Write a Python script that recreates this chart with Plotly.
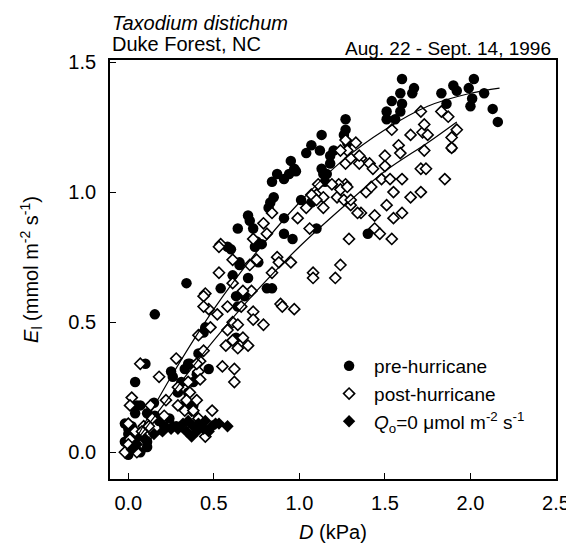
import plotly.graph_objects as go

# ---------------- data ----------------
pre_x = [1.60, 1.67, 1.66, 1.54, 1.59, 1.60, 1.59, 1.51, 1.56, 1.51, 1.83, 1.86, 1.90, 1.92, 1.99, 2.02, 2.01, 2.00,
         2.08, 2.13, 2.16, 1.27, 1.27, 1.26, 1.89, 1.40,
         1.13, 1.28, 1.07, 1.12, 1.04, 1.18, 1.18, 0.95, 0.98, 0.94, 0.87, 0.84, 0.91, 0.97, 1.13, 1.14, 1.16, 1.15,
         0.85, 0.83, 0.82, 0.70, 0.71, 0.64, 0.58, 0.91, 0.91, 0.96, 1.01, 1.07, 1.10, 0.75, 0.73, 1.20,
         0.60, 0.74, 0.78, 0.65, 0.76, 0.65, 0.61, 0.70, 0.54, 0.63, 0.68, 0.64, 0.81, 0.84, 0.45, 0.44, 0.63, 0.41,
         0.35, 0.47, 0.34, 0.155, 0.25, 0.33, 0.36, 0.40, 0.31, 0.29, 0.35, 0.10, 0.04, 0.26, 0.38, 0.38, 0.33, 0.07,
         0.04, 0.11, 0.155, 0.18, 0.24, 0.21, 0.28, -0.02, 0.00, 0.02, 0.06, -0.02, 0.01, 0.07, 0.00, 0.11, 0.04,
         0.15, 0.05, 0.00, 0.03, 0.11]
pre_y = [1.435, 1.40, 1.38, 1.35, 1.38, 1.34, 1.31, 1.28, 1.28, 1.31, 1.38, 1.34, 1.41, 1.39, 1.40, 1.435, 1.36, 1.33,
         1.38, 1.32, 1.27, 1.28, 1.24, 1.22, 1.17, 0.84,
         1.22, 1.19, 1.18, 1.16, 1.15, 1.14, 1.11, 1.12, 1.08, 1.07, 1.07, 1.04, 1.05, 1.09, 1.09, 1.07, 1.07, 1.04,
         0.98, 0.96, 0.94, 0.91, 0.89, 0.86, 0.79, 0.90, 0.84, 0.82, 0.97, 0.96, 0.86, 0.81, 0.86, 1.16,
         0.78, 0.79, 0.80, 0.73, 0.73, 0.72, 0.68, 0.67, 0.63, 0.60, 0.60, 0.56, 0.63, 0.63, 0.48, 0.46, 0.44, 0.38,
         0.34, 0.32, 0.65, 0.53, 0.31, 0.32, 0.34, 0.30, 0.27, 0.23, 0.23, 0.34, 0.27, 0.29, 0.27, 0.18, 0.18, 0.18,
         0.15, 0.15, 0.14, 0.12, 0.13, 0.10, 0.10, 0.11, 0.07, 0.10, 0.06, 0.04, 0.01, 0.00, -0.01, 0.02, 0.03,
         0.19, 0.18, 0.09, 0.05, 0.04]

post_x = [1.71, 1.54, 1.83, 1.87, 1.92, 1.65, 1.72, 1.75, 1.73, 1.58, 1.59, 1.73, 1.89, 1.89, 1.33, 1.27, 1.28, 1.36,
          1.35, 1.41, 1.43, 1.50, 1.50, 1.48, 1.53, 1.27, 1.23, 1.22, 1.30, 1.39, 1.42, 1.60, 1.71, 1.74, 1.85, 1.55,
          1.65, 1.71, 1.51, 1.60, 1.55, 1.36, 1.44, 1.44, 1.47, 1.54, 1.29, 1.24, 1.21, 1.08, 1.08, 1.34, 1.26, 1.24,
          1.28, 1.30,
          1.11, 1.19, 1.10, 1.14, 1.14, 1.04, 0.99, 0.84, 0.79, 0.81, 0.73, 0.54, 1.24, 1.27, 1.30, 1.35, 1.07, 1.10,
          1.06,
          0.61, 0.75, 0.87, 0.95, 0.71, 0.84, 0.88, 0.53, 0.53, 0.61, 0.72, 0.67, 0.45, 0.47, 0.52, 0.58, 0.66, 0.89,
          0.97, 0.90, 0.73, 0.73, 0.79, 0.61, 0.64, 0.58, 0.41, 0.48, 0.61, 0.57, 0.67, 0.70, 0.64, 0.44, 0.42, 0.28,
          0.55, 0.62, 0.62, 0.07, 0.18, 0.41, 0.42, 0.35, 0.40, 0.44, 0.44, 0.29, 0.36, 0.34, 0.40, 0.37, 0.29, 0.02,
          0.01, 0.13, 0.22, 0.21, 0.14, 0.49, 0.45, 0.41, 0.00, 0.04, 0.09, 0.01, 0.11, -0.02, 0.05, 0.33, 0.38, 0.12,
          0.08, 0.00]
post_y = [1.31, 1.24, 1.31, 1.29, 1.24, 1.22, 1.23, 1.22, 1.26, 1.18, 1.15, 1.16, 1.21, 1.17, 1.19, 1.20, 1.16, 1.13,
          1.11, 1.11, 1.09, 1.14, 1.10, 1.05, 1.05, 1.03, 1.03, 0.98, 0.95, 1.00, 1.02, 1.05, 1.09, 1.09, 1.05, 1.00,
          0.98, 1.00, 0.95, 0.92, 0.90, 0.92, 0.91, 0.86, 0.84, 0.82, 0.82, 0.72, 0.67, 0.69, 0.67, 0.92, 0.97, 1.01,
          1.02, 0.97,
          1.03, 1.03, 0.99, 0.98, 0.94, 0.94, 0.90, 0.92, 0.88, 0.84, 0.82, 0.80, 1.16, 1.11, 1.13, 1.14, 0.99, 0.97,
          0.86,
          0.74, 0.74, 0.75, 0.73, 0.72, 0.69, 0.73, 0.79, 0.69, 0.65, 0.62, 0.62, 0.61, 0.55, 0.53, 0.56, 0.56, 0.57,
          0.55, 0.56, 0.54, 0.51, 0.49, 0.50, 0.49, 0.47, 0.45, 0.48, 0.43, 0.41, 0.44, 0.41, 0.40, 0.39, 0.35, 0.36,
          0.33, 0.32, 0.27, 0.34, 0.29, 0.31, 0.28, 0.27, 0.34, 0.60, 0.56, 0.25, 0.23, 0.20, 0.20, 0.16, 0.18, 0.21,
          0.18, 0.18, 0.20, 0.14, 0.13, 0.16, 0.06, 0.13, 0.11, 0.08, 0.10, 0.05, 0.06, 0.00, 0.00, 0.16, 0.16, 0.10,
          0.08, 0.03]

q0_x = [0.32, 0.38, 0.44, 0.49, 0.53, 0.58, 0.45, 0.37, 0.40, 0.47, 0.34, 0.41, 0.26, 0.51, 0.35, 0.05, 0.10, 0.15,
        0.20, 0.25, 0.02, 0.29]
q0_y = [0.11, 0.10, 0.09, 0.10, 0.11, 0.10, 0.12, 0.06, 0.08, 0.08, 0.08, 0.11, 0.10, 0.11, 0.12, 0.03, 0.05, 0.07,
        0.08, 0.09, 0.01, 0.09]

# fitted curves, points
fit_pre_x = [0.02, 0.25, 0.50, 0.75, 1.00, 1.25, 1.50, 1.75, 2.00, 2.17]
fit_pre_y = [0.02, 0.29, 0.55, 0.77, 0.96, 1.12, 1.24, 1.33, 1.38, 1.40]
fit_post_x = [0.02, 0.25, 0.50, 0.75, 1.00, 1.25, 1.50, 1.75, 1.92]
fit_post_y = [0.02, 0.22, 0.43, 0.62, 0.79, 0.94, 1.08, 1.19, 1.27]
fit_q0_x = [0.00, 0.10, 0.20, 0.30, 0.45, 0.60]
fit_q0_y = [0.00, 0.05, 0.075, 0.09, 0.10, 0.105]

x_ticks = [0.0, 0.5, 1.0, 1.5, 2.0, 2.5]
y_ticks = [0.0, 0.5, 1.0, 1.5]

FONT = "Liberation Sans, Arial, Helvetica, sans-serif"

fig = go.Figure()
fig.add_trace(go.Scatter(x=pre_x, y=pre_y, mode="markers", name="pre-hurricane",
                         marker=dict(symbol="circle", size=10.5, color="black")))
fig.add_trace(go.Scatter(x=post_x, y=post_y, mode="markers", name="post-hurricane",
                         marker=dict(symbol="diamond", size=8.5, color="white",
                                     line=dict(color="black", width=1.6))))
fig.add_trace(go.Scatter(x=q0_x, y=q0_y, mode="markers",
                         name="<i>Q</i><sub>o</sub>=0 μmol m<sup>-2</sup> s<sup>-1</sup>",
                         marker=dict(symbol="diamond", size=9.5, color="black")))
for fx, fy in [(fit_pre_x, fit_pre_y), (fit_post_x, fit_post_y), (fit_q0_x, fit_q0_y)]:
    fig.add_trace(go.Scatter(x=fx, y=fy, mode="lines", showlegend=False,
                             line=dict(color="black", width=1.2, shape="spline")))

axis_common = dict(showgrid=False, zeroline=False, showline=True, mirror=True, linecolor="black",
                   linewidth=1.8, ticks="inside", ticklen=6, tickwidth=1.2, tickcolor="black",
                   tickfont=dict(size=20, color="black", family=FONT), tickformat=".1f")

fig.update_xaxes(range=[-0.107, 2.5], tickvals=x_ticks, ticklabelstandoff=5,
                 title=dict(text="<i>D</i> (kPa)", font=dict(size=20, color="black", family=FONT), standoff=12),
                 **axis_common)
fig.update_yaxes(range=[-0.103, 1.508], tickvals=y_ticks, ticklabelstandoff=8,
                 title=dict(text="<i>E</i><sub>l</sub> (mmol m<sup>-2</sup> s<sup>-1</sup>)",
                            font=dict(size=20, color="black", family=FONT), standoff=24),
                 **axis_common)

fig.add_annotation(text="<i>Taxodium distichum</i>", xref="paper", yref="paper", x=0.0, y=1.089,
                   xanchor="left", yanchor="middle", showarrow=False,
                   font=dict(size=20, color="black", family=FONT))
fig.add_annotation(text="Duke Forest, NC", xref="paper", yref="paper", x=0.0, y=1.037,
                   xanchor="left", yanchor="middle", showarrow=False,
                   font=dict(size=20, color="black", family=FONT))
fig.add_annotation(text="Aug. 22 - Sept. 14, 1996", xref="paper", yref="paper", x=0.993, y=1.028,
                   xanchor="right", yanchor="middle", showarrow=False,
                   font=dict(size=19, color="black", family=FONT))

fig.update_layout(
    width=574, height=544,
    margin=dict(l=102, r=17, t=52, b=64),
    plot_bgcolor="white", paper_bgcolor="white",
    font=dict(family=FONT, color="black"),
    legend=dict(x=0.48, y=0.315, xanchor="left", yanchor="top", bgcolor="rgba(0,0,0,0)",
                font=dict(size=19, color="black", family=FONT), tracegroupgap=0, itemwidth=40),
)

fig.write_html("out.html")
